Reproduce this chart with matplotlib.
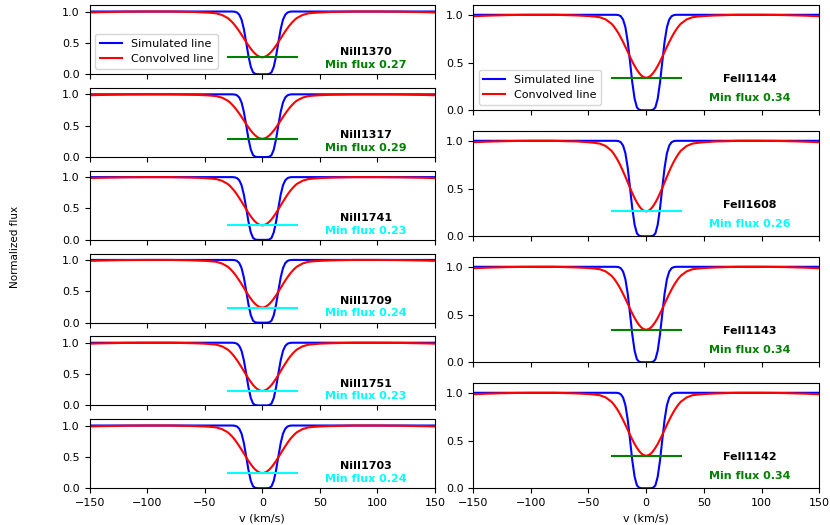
import numpy as np
import matplotlib
matplotlib.use("Agg")
import matplotlib.pyplot as plt

# velocity grid (km/s), one side only - profiles are symmetric about v=0
v_half = [0, 2, 4, 6, 8, 10, 12, 14, 16, 18, 20, 22, 24, 26, 28, 30,
          35, 40, 45, 50, 60, 70, 80, 100, 120, 140, 150]

# simulated (saturated) line, same for all transitions
sim_flux = [0.00, 0.00, 0.00, 0.005, 0.03, 0.12, 0.29, 0.51, 0.72, 0.87, 0.95, 0.985, 0.997, 1.0, 1.0, 1.0,
            1.0, 1.0, 1.0, 1.0, 1.0, 1.0, 1.0, 1.0, 1.0, 1.0, 1.0]

# convolved lines
conv_1370 = [0.27, 0.277, 0.295, 0.324, 0.361, 0.407, 0.458, 0.514, 0.571, 0.629, 0.685, 0.737, 0.785, 0.828,
             0.865, 0.896, 0.945, 0.971, 0.980, 0.985, 0.993, 0.996, 1.0, 1.0, 0.997, 0.99, 0.985]
conv_1317 = [0.29, 0.297, 0.314, 0.343, 0.379, 0.423, 0.473, 0.527, 0.583, 0.639, 0.693, 0.744, 0.791, 0.832,
             0.869, 0.899, 0.947, 0.972, 0.980, 0.986, 0.993, 0.996, 1.0, 1.0, 0.997, 0.99, 0.985]
conv_1741 = [0.23, 0.238, 0.256, 0.287, 0.326, 0.375, 0.429, 0.487, 0.548, 0.609, 0.667, 0.723, 0.774, 0.818,
             0.858, 0.891, 0.942, 0.969, 0.978, 0.985, 0.992, 0.996, 1.0, 1.0, 0.997, 0.99, 0.985]
conv_1709 = [0.24, 0.248, 0.266, 0.296, 0.335, 0.383, 0.436, 0.494, 0.554, 0.614, 0.672, 0.726, 0.777, 0.821,
             0.859, 0.892, 0.943, 0.970, 0.979, 0.985, 0.992, 0.996, 1.0, 1.0, 0.997, 0.99, 0.985]
conv_1751 = [0.23, 0.238, 0.256, 0.287, 0.326, 0.375, 0.429, 0.487, 0.548, 0.609, 0.667, 0.723, 0.774, 0.818,
             0.858, 0.891, 0.942, 0.969, 0.978, 0.985, 0.992, 0.996, 1.0, 1.0, 0.997, 0.99, 0.985]
conv_1703 = [0.24, 0.248, 0.266, 0.296, 0.335, 0.383, 0.436, 0.494, 0.554, 0.614, 0.672, 0.726, 0.777, 0.821,
             0.859, 0.892, 0.943, 0.970, 0.979, 0.985, 0.992, 0.996, 1.0, 1.0, 0.997, 0.99, 0.985]
conv_1144 = [0.34, 0.347, 0.362, 0.389, 0.423, 0.464, 0.510, 0.560, 0.613, 0.665, 0.715, 0.762, 0.806, 0.844,
             0.878, 0.906, 0.951, 0.974, 0.982, 0.987, 0.993, 0.997, 1.0, 1.0, 0.997, 0.99, 0.985]
conv_1608 = [0.26, 0.267, 0.285, 0.315, 0.353, 0.399, 0.451, 0.507, 0.566, 0.624, 0.680, 0.734, 0.782, 0.825,
             0.863, 0.895, 0.945, 0.970, 0.979, 0.985, 0.993, 0.996, 1.0, 1.0, 0.997, 0.99, 0.985]
conv_1143 = conv_1144
conv_1142 = conv_1144

left_lines = ['NiII1370', 'NiII1317', 'NiII1741', 'NiII1709', 'NiII1751', 'NiII1703']
left_conv = [conv_1370, conv_1317, conv_1741, conv_1709, conv_1751, conv_1703]
left_min = [0.27, 0.29, 0.23, 0.24, 0.23, 0.24]
left_col = ['green', 'green', 'cyan', 'cyan', 'cyan', 'cyan']

right_lines = ['FeII1144', 'FeII1608', 'FeII1143', 'FeII1142']
right_conv = [conv_1144, conv_1608, conv_1143, conv_1142]
right_min = [0.34, 0.26, 0.34, 0.34]
right_col = ['green', 'cyan', 'green', 'green']


def mirror(half, sign=1):
    half = np.asarray(half, dtype=float)
    return np.concatenate([sign * half[::-1], half[1:]])


v = mirror(v_half, -1)
sim = mirror(sim_flux)

plt.rcParams['font.size'] = 8

fig = plt.figure(figsize=(8.3, 5.25), dpi=100)
gs_l = fig.add_gridspec(6, 1, left=0.108, right=0.524, top=0.990, bottom=0.070, hspace=0.2)
gs_r = fig.add_gridspec(4, 1, left=0.570, right=0.987, top=0.990, bottom=0.070, hspace=0.2)


def panel(ax, name, conv, mn, col, legend, bottom):
    ax.plot(v, sim, color='blue', lw=1.5, label='Simulated line')
    ax.plot(v, mirror(conv), color='red', lw=1.5, label='Convolved line')
    ax.plot([-30, 30], [mn, mn], color=col, lw=1.5)
    ax.text(90, 0.30, name, ha='center', va='baseline', fontweight='bold', color='black')
    ax.text(90, 0.10, 'Min flux %.2f' % mn, ha='center', va='baseline', fontweight='bold', color=col)
    ax.set_xlim(-150, 150)
    ax.set_ylim(0, 1.1)
    ax.set_xticks(np.arange(-150, 151, 50))
    ax.set_yticks([0.0, 0.5, 1.0])
    if legend:
        ax.legend(loc='lower left')
    if bottom:
        ax.set_xlabel('v (km/s)')
    else:
        ax.set_xticklabels([])


for i in range(6):
    ax = fig.add_subplot(gs_l[i, 0])
    panel(ax, left_lines[i], left_conv[i], left_min[i], left_col[i], i == 0, i == 5)

for i in range(4):
    ax = fig.add_subplot(gs_r[i, 0])
    panel(ax, right_lines[i], right_conv[i], right_min[i], right_col[i], i == 0, i == 3)

fig.text(0.018, 0.53, 'Normalized flux', rotation=90, ha='center', va='center', fontsize=7.5)

plt.savefig('out.png', dpi=100)
